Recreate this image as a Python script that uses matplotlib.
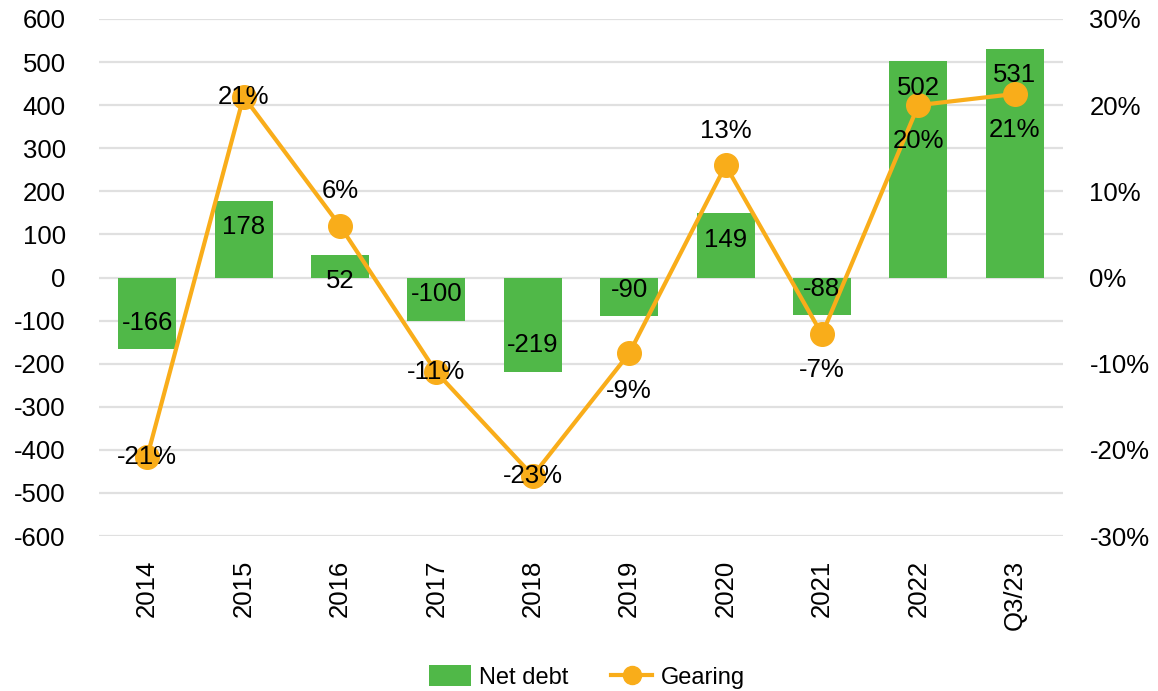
import matplotlib
matplotlib.use("Agg")
import matplotlib.pyplot as plt
from matplotlib.patches import Patch
from matplotlib.lines import Line2D
import numpy as np

categories = ["2014", "2015", "2016", "2017", "2018", "2019", "2020", "2021", "2022", "Q3/23"]
net_debt = [-166, 178, 52, -100, -219, -90, 149, -88, 502, 531]
gearing = [-20.8, 21.0, 6.0, -11.0, -23.0, -8.8, 13.0, -6.6, 20.0, 21.3]
gearing_labels = ["-21%", "21%", "6%", "-11%", "-23%", "-9%", "13%", "-7%", "20%", "21%"]
left_ticks = list(range(-600, 601, 100))
right_ticks = list(range(-30, 31, 10))

# label offsets in points (style)
gear_offsets = [0, 0, 25, 0, 0, -27, 25, -26, -26, -26]

GREEN = "#50B848"
ORANGE = "#F9AD1A"
GRID = "#E0E0E0"
FONT = "Liberation Sans"
FS = 18.5

plt.rcParams["font.family"] = [FONT, "DejaVu Sans"]

fig = plt.figure(figsize=(11.58, 6.91), dpi=100)
ax = fig.add_axes([99/1158, 1-536/691, (1063-99)/1158, (536-19)/691])
ax2 = ax.twinx()

x = np.arange(len(categories))
ax.bar(x, net_debt, width=0.6, color=GREEN, zorder=2)
ax.set_ylim(-600, 600)
ax.set_xlim(-0.5, len(categories)-0.5)
ax.set_yticks(left_ticks)
ax.set_yticklabels([str(t) for t in left_ticks], fontsize=FS)
for t in left_ticks:
    ax.axhline(t, color=GRID, lw=1.6, zorder=0)
ax.set_xticks(x)
ax.set_xticklabels(categories, rotation=90, fontsize=FS)
ax.tick_params(axis="both", length=0)
ax.tick_params(axis="y", pad=24)
ax.tick_params(axis="x", pad=17)
for s in ax.spines.values():
    s.set_visible(False)

ax2.plot(x, gearing, color=ORANGE, lw=3, marker="o", markersize=17, zorder=3)
ax2.set_ylim(-30, 30)
ax2.set_yticks(right_ticks)
ax2.set_yticklabels([f"{t}%" for t in right_ticks], fontsize=FS)
ax2.tick_params(axis="y", length=0, pad=19)
for s in ax2.spines.values():
    s.set_visible(False)

for i, v in enumerate(net_debt):
    off = -19 if v > 0 else 19
    ax2.annotate(str(v), (x[i], v), xycoords=ax.transData, xytext=(0, off),
                 textcoords="offset points", ha="center", va="center",
                 fontsize=FS, color="black", zorder=5)
for i, (v, lab) in enumerate(zip(gearing, gearing_labels)):
    ax2.annotate(lab, (x[i], v), xytext=(0, gear_offsets[i]),
                 textcoords="offset points", ha="center", va="center",
                 fontsize=FS, color="black", zorder=5)

handles = [Patch(facecolor=GREEN, edgecolor="none", label="Net debt"),
           Line2D([0], [0], color=ORANGE, lw=3, marker="o", markersize=13, label="Gearing")]
fig.legend(handles=handles, loc="center", bbox_to_anchor=(587/1158, 1-677/691), ncol=2,
           frameon=False, fontsize=17, handlelength=1.75, handleheight=1.0,
           columnspacing=1.8, handletextpad=0.35)

fig.savefig("out.png", dpi=100)
